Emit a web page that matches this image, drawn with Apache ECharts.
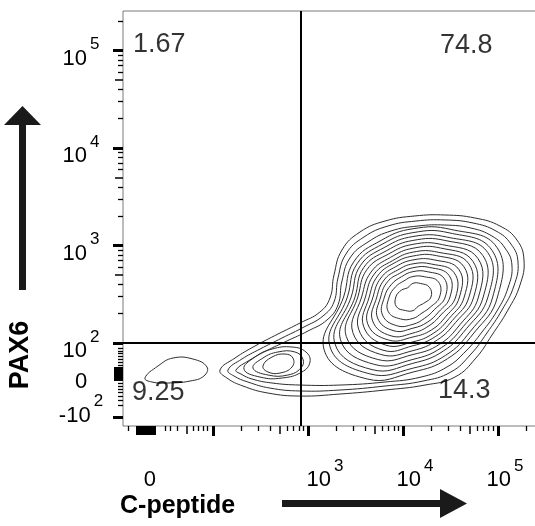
<!DOCTYPE html>
<html>
<head>
<meta charset="utf-8">
<title>PAX6 / C-peptide</title>
<script src="https://cdn.jsdelivr.net/npm/echarts@6.0.0/dist/echarts.min.js"></script>
<style>
  html, body { margin: 0; padding: 0; background: #fff; }
  #main { width: 535px; height: 526px; }
</style>
</head>
<body>
<div id="main"></div>
<script>
// axis units are display decades: 10^k sits at k, the region below 10^2 is the
// compressed (biexponential) part
const FONT = 'Liberation Sans, Arial, sans-serif'

const xRange = [1.053, 5.411]
const yRange = [1.149, 5.405]

// tick labels
const xLabelPos = [1.337, 3.179, 4.126, 5.074]
const xLabelText = ['0', '10^3', '10^4', '10^5']
const yLabelPos = [1.338, 1.682, 2, 3, 4, 5]
const yLabelText = ['-10^2', '0', '10^2', '10^3', '10^4', '10^5']

// tick marks
const logDecades = [2, 3, 4]
const minorMult = [2, 3, 4, 6, 7, 8, 9]
const xMajorTicks = [2, 3, 4, 5]
const xZeroBlock = [1.200, 1.221, 1.242, 1.263, 1.284, 1.305, 1.326, 1.347, 1.368, 1.389]
const xLowMinor = [1.105, 1.495, 1.547, 1.621, 1.789, 1.842, 1.895, 1.937]
const xLowMid = [1.726]
const yMajorTicks = [1.241, 2, 3, 4, 5]
const yZeroBlock = [1.621, 1.641, 1.662, 1.682, 1.703, 1.723, 1.744]
const yLowMinor = [1.364, 1.415, 1.456, 1.497, 1.528, 1.559, 1.590, 1.774, 1.805, 1.836, 1.867, 1.897, 1.918, 1.949]

// quadrant gates and percentages (UL, UR, LL, LR)
const gateX = 2.916
const gateY = 2.0
const quadrantValues = ['1.67', '74.8', '9.25', '14.3']

// contours that wrap both populations (outermost first)
const envelopeRings = [
  [[2.074,1.723],[2.232,1.846],[2.442,1.969],[2.684,2.092],[2.916,2.205],[3.126,2.318],[3.232,2.462],[3.274,2.697],[3.358,2.954],[3.547,3.138],[3.811,3.251],[4.126,3.303],[4.442,3.313],[4.758,3.282],[5.021,3.200],[5.200,3.056],[5.274,2.851],[5.232,2.595],[5.105,2.338],[4.937,2.082],[4.768,1.846],[4.547,1.651],[4.232,1.569],[3.811,1.518],[3.337,1.477],[2.916,1.456],[2.579,1.487],[2.316,1.559],[2.147,1.641]],
  [[2.158,1.723],[2.305,1.836],[2.495,1.938],[2.726,2.051],[2.958,2.164],[3.158,2.277],[3.274,2.421],[3.316,2.667],[3.400,2.913],[3.589,3.087],[3.842,3.200],[4.137,3.251],[4.442,3.262],[4.737,3.231],[4.979,3.149],[5.137,3.015],[5.211,2.831],[5.168,2.585],[5.042,2.338],[4.884,2.103],[4.716,1.887],[4.505,1.703],[4.211,1.610],[3.811,1.559],[3.337,1.518],[2.916,1.508],[2.600,1.538],[2.368,1.600],[2.221,1.662]],
  [[2.242,1.723],[2.389,1.826],[2.558,1.918],[2.779,2.021],[3.000,2.123],[3.200,2.236],[3.316,2.390],[3.358,2.636],[3.442,2.872],[3.632,3.036],[3.874,3.149],[4.158,3.200],[4.442,3.210],[4.716,3.179],[4.937,3.097],[5.074,2.974],[5.147,2.800],[5.105,2.564],[4.989,2.328],[4.832,2.113],[4.663,1.918],[4.463,1.754],[4.190,1.651],[3.811,1.600],[3.337,1.569],[2.916,1.569],[2.621,1.590],[2.411,1.631],[2.295,1.682]]
]

// main (double positive) population: rings read as radii around its peak
const mainCenter = [4.105, 2.472]
const ringAngles = [0, 30, 60, 90, 120, 150, 180, 210, 240, 270, 300, 330]
const mainRadii = [
  [0.89,1.02,0.80,0.70,0.67,0.72,0.73,1.08,0.97,0.77,0.73,0.74],
  [0.84,0.96,0.76,0.66,0.63,0.68,0.69,1.01,0.91,0.73,0.69,0.70],
  [0.79,0.91,0.71,0.62,0.59,0.64,0.65,0.95,0.86,0.68,0.64,0.65],
  [0.74,0.85,0.67,0.58,0.55,0.60,0.61,0.88,0.80,0.64,0.60,0.61],
  [0.69,0.79,0.62,0.54,0.51,0.56,0.58,0.81,0.74,0.59,0.56,0.57],
  [0.64,0.73,0.58,0.50,0.47,0.51,0.54,0.73,0.68,0.55,0.51,0.52],
  [0.59,0.68,0.53,0.46,0.43,0.47,0.50,0.66,0.63,0.50,0.47,0.48],
  [0.54,0.62,0.49,0.42,0.40,0.43,0.46,0.60,0.57,0.46,0.43,0.44],
  [0.49,0.56,0.44,0.38,0.36,0.39,0.42,0.55,0.51,0.41,0.39,0.40],
  [0.45,0.50,0.39,0.34,0.32,0.35,0.38,0.49,0.46,0.37,0.34,0.35],
  [0.39,0.44,0.35,0.30,0.28,0.31,0.34,0.43,0.40,0.32,0.30,0.31],
  [0.34,0.38,0.30,0.26,0.24,0.26,0.30,0.37,0.34,0.28,0.25,0.26],
  [0.28,0.31,0.24,0.21,0.19,0.21,0.25,0.30,0.26,0.22,0.19,0.21],
  [0.19,0.20,0.16,0.14,0.11,0.14,0.18,0.20,0.16,0.14,0.11,0.13]
]

// small population just left of the vertical gate
const leftRings = [
  [[2.326,1.733],[2.442,1.856],[2.621,1.938],[2.832,1.959],[2.979,1.908],[3.021,1.805],[2.937,1.703],[2.726,1.641],[2.495,1.651]],
  [[2.421,1.744],[2.526,1.846],[2.684,1.908],[2.863,1.908],[2.947,1.836],[2.926,1.744],[2.789,1.672],[2.579,1.672]],
  [[2.526,1.764],[2.621,1.856],[2.758,1.887],[2.842,1.846],[2.832,1.754],[2.705,1.692],[2.579,1.703]]
]
// lone outer contour near zero
const islandRing = [[1.284,1.641],[1.421,1.764],[1.579,1.846],[1.789,1.836],[1.937,1.754],[1.905,1.662],[1.758,1.610],[1.526,1.590],[1.358,1.600]]

const mainRings = mainRadii.map(rs => rs.map((r, i) => {
  const a = ringAngles[i] * Math.PI / 180
  return [mainCenter[0] + r * Math.cos(a), mainCenter[1] + r * Math.sin(a)]
}))
const contours = envelopeRings.concat(mainRings, leftRings, [islandRing])

const logMinor = logDecades.flatMap(d => minorMult.map(m => d + Math.log10(m))).concat([5 + Math.log10(2)])
const logMid = logDecades.map(d => d + Math.log10(5))

function powLabel (text) {
  if (text.indexOf('^') < 0) return '{b|' + text + '}'
  const parts = text.split('^')
  return '{b|' + parts[0] + '}{sup|' + parts[1] + '}'
}
function labelFor (pos, texts) {
  return function (v) {
    for (let i = 0; i < pos.length; i++) {
      if (Math.abs(pos[i] - v) < 1e-6) return powLabel(texts[i])
    }
    return ''
  }
}
const richStyle = {
  b: { fontSize: 22, fontFamily: FONT, color: '#000', padding: [16, 0, 0, 0] },
  sup: { fontSize: 17, fontFamily: FONT, color: '#000', padding: [0, 0, 12, 3] }
}

function tickAxis (dim, ticks, len, width, extra) {
  const ax = {
    type: 'value',
    min: dim === 'x' ? xRange[0] : yRange[0],
    max: dim === 'x' ? xRange[1] : yRange[1],
    position: dim === 'x' ? 'bottom' : 'left',
    offset: 0,
    axisLine: { show: false },
    splitLine: { show: false },
    axisTick: { show: true, inside: false, length: len, customValues: ticks, lineStyle: { color: '#000', width: width } },
    axisLabel: { show: false }
  }
  return Object.assign(ax, extra || {})
}

const chart = echarts.init(document.getElementById('main'))
const option = {
  animation: false,
  backgroundColor: '#fff',
  grid: {
    left: 123, top: 11, right: -2, bottom: 100,
    show: true, borderColor: '#7a7a7a', borderWidth: 1,
    containLabel: false, outerBoundsMode: 'none'
  },
  xAxis: [
    tickAxis('x', xMajorTicks, 10, 3, {
      axisLabel: {
        show: true, customValues: xLabelPos, margin: 27,
        formatter: labelFor(xLabelPos, xLabelText), rich: richStyle
      }
    }),
    tickAxis('x', xZeroBlock, 9, 2),
    tickAxis('x', logMid.concat(xLowMid), 8, 1.5),
    tickAxis('x', logMinor.concat(xLowMinor), 5, 1.3)
  ],
  yAxis: [
    tickAxis('y', yMajorTicks, 10, 3, {
      axisLabel: {
        show: true, customValues: yLabelPos, margin: 42, align: 'center',
        formatter: labelFor(yLabelPos, yLabelText), rich: richStyle
      }
    }),
    tickAxis('y', yZeroBlock, 9, 2),
    tickAxis('y', logMid, 8, 1.5),
    tickAxis('y', logMinor.concat(yLowMinor), 5, 1.3)
  ],
  series: [
    {
      type: 'custom',
      xAxisIndex: 0,
      yAxisIndex: 0,
      clip: true,
      silent: true,
      data: contours.map(c => c[0]),
      renderItem: function (params, api) {
        const pts = contours[params.dataIndex].map(p => api.coord(p))
        return {
          type: 'polygon',
          shape: { points: pts, smooth: 0.45 },
          style: { fill: 'none', stroke: '#2e2e2e', lineWidth: 1 }
        }
      },
      z: 2
    },
    {
      type: 'line',
      data: [],
      z: 5,
      markLine: {
        silent: true,
        symbol: ['none', 'none'],
        animation: false,
        label: { show: false },
        lineStyle: { color: '#000', width: 2, type: 'solid' },
        data: [{ xAxis: gateX }, { yAxis: gateY }]
      }
    },
    {
      type: 'scatter',
      symbolSize: 0,
      silent: true,
      z: 6,
      data: [
        [1.158, 5.056, quadrantValues[0]],
        [4.389, 5.046, quadrantValues[1]],
        [1.147, 1.497, quadrantValues[2]],
        [4.368, 1.508, quadrantValues[3]]
      ],
      label: {
        show: true,
        position: 'right',
        distance: 0,
        formatter: p => p.value[2],
        fontSize: 27,
        fontFamily: FONT,
        color: '#000'
      }
    }
  ],
  graphic: [
    { type: 'rect', shape: { x: 19, y: 123, width: 7, height: 167 }, style: { fill: '#1a1a1a' } },
    { type: 'polygon', shape: { points: [[22.5, 106], [4, 125], [41, 125]] }, style: { fill: '#1a1a1a' } },
    { type: 'rect', shape: { x: 282, y: 500, width: 160, height: 7 }, style: { fill: '#1a1a1a' } },
    { type: 'polygon', shape: { points: [[440, 489], [440, 518], [467, 503.5]] }, style: { fill: '#1a1a1a' } },
    {
      type: 'text', x: 21, y: 355, rotation: Math.PI / 2,
      style: { text: 'PAX6', font: 'bold 27px ' + FONT, fill: '#000', align: 'center', verticalAlign: 'middle' }
    },
    {
      type: 'text', x: 120, y: 506,
      style: { text: 'C-peptide', font: 'bold 25px ' + FONT, fill: '#000', align: 'left', verticalAlign: 'middle' }
    }
  ]
}
chart.setOption(option)
</script>
</body>
</html>
